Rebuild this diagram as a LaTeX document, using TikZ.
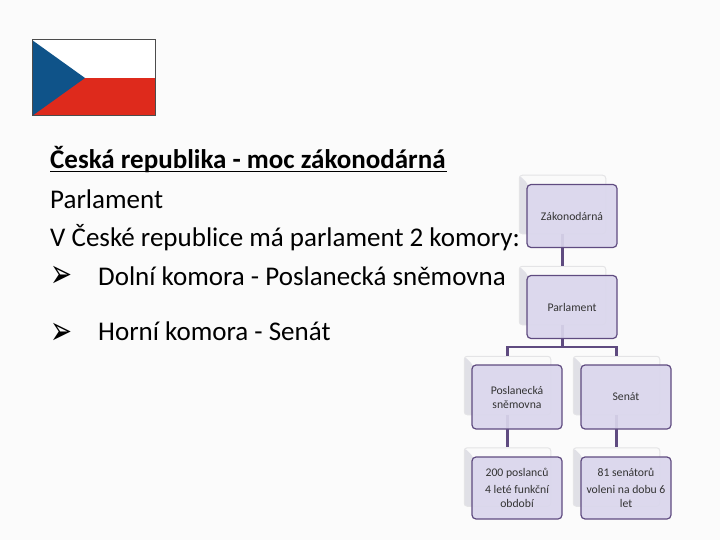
\documentclass[tikz,border=0pt]{standalone}
\usepackage{fontspec}
\setmainfont{Carlito}
\newfontfamily\arrowfont{DejaVu Sans}
\usetikzlibrary{positioning}
\definecolor{pagebg}{HTML}{FBFBFB}
\definecolor{boxfill}{HTML}{DAD6EC}
\definecolor{boxline}{HTML}{5F4B80}
\definecolor{backfill}{HTML}{FAFAFA}
\definecolor{backline}{HTML}{E4E4E6}
\definecolor{backside}{HTML}{E0E0E6}
\definecolor{flagblue}{HTML}{0F5389}
\definecolor{flagred}{HTML}{DE2A1C}
\newcommand{\bulletarrow}{\scalebox{1.25}[1.9]{\fontsize{21}{24}\arrowfont ➢}}
\tikzset{
	frontbox/.style={draw=boxline, line width=1.2pt, fill=boxfill, fill opacity=0.92, text opacity=1, rounded corners=4pt, minimum width=90pt, align=center, font=\fontsize{11.7}{14}\selectfont, text=black!80, inner sep=1pt},
	backbox/.style={draw=backline, line width=1pt, fill=backfill, rounded corners=3pt, minimum width=86.5pt, minimum height=58.5pt,
		path picture={\fill [backside] (path picture bounding box.north west) -- ++(9,9) -- ++(0,60) -- ++(-9,0) -- cycle;}},
	textline/.style={anchor=base west, font=\fontsize{27}{32}\selectfont, inner sep=0pt},
	link/.style={draw=boxline, line width=2.4pt}
}
\begin{document}
\begin{tikzpicture}[x=1pt, y=-1pt]
	\useasboundingbox (0,0) rectangle (720,540);
	\fill [pagebg] (0,0) rectangle (720,540);

	% flag
	\fill [white] (32,40) rectangle (155,78);
	\fill [flagred] (32,78) rectangle (155,116);
	\fill [flagblue] (32,40) -- (85,78) -- (32,116) -- cycle;
	\draw [black!70, line width=1pt] (32,40) rectangle (155,116);

	% text
	\node [textline] (title) at (50,169) {\textbf{Česká republika - moc zákonodárná}};
	\draw [line width=1.7pt] (50,171.5) -- (447,171.5);
	\node [textline] (parl) at (50,208) {Parlament};
	\node [textline] (komory) at (50,246) {V České republice má parlament 2 komory:};
	\node [textline] (arrow1) at (50,287) {\bulletarrow};
	\node [textline] (dolni) at (98,285) {Dolní komora - Poslanecká sněmovna};
	\node [textline] (arrow2) at (50,344) {\bulletarrow};
	\node [textline] (horni) at (98,340) {Horní komora - Senát};

	% back panels
	\node [backbox] (b1) at (562.5,204.5) {};
	\node [backbox] (b2) at (562.5,295.5) {};
	\node [backbox] (b3) at (507.5,385.5) {};
	\node [backbox] (b4) at (616.5,385.5) {};
	\node [backbox] (b5) at (507.5,477) {};
	\node [backbox] (b6) at (616.5,477) {};

	% links
	\coordinate (busm) at (562.5,347);
	\draw [link] (b1.south) -- (b2.north);
	\draw [link] (b2.south) -- (busm);
	\draw [link] (b3.north) -- (b3.north |- busm) -- (b4.north |- busm) -- (b4.north);
	\draw [link] (b3.south) -- (b5.north);
	\draw [link] (b4.south) -- (b6.north);

	% front boxes
	\node [frontbox, minimum height=63pt] (zak) at (572,216) {Zákonodárná};
	\node [frontbox, minimum height=63pt] (par) at (572,307) {Parlament};
	\node [frontbox, minimum height=64pt] (pos) at (517,397) {Poslanecká\\sněmovna};
	\node [frontbox, minimum height=64pt] (sen) at (626,397) {Senát};
	\node [frontbox, minimum height=62pt] (pct) at (517,488) {200 poslanců\\[3pt]4 leté funkční\\období};
	\node [frontbox, minimum height=62pt] (sct) at (626,488) {81 senátorů\\[3pt]voleni na dobu 6\\let};
\end{tikzpicture}
\end{document}
